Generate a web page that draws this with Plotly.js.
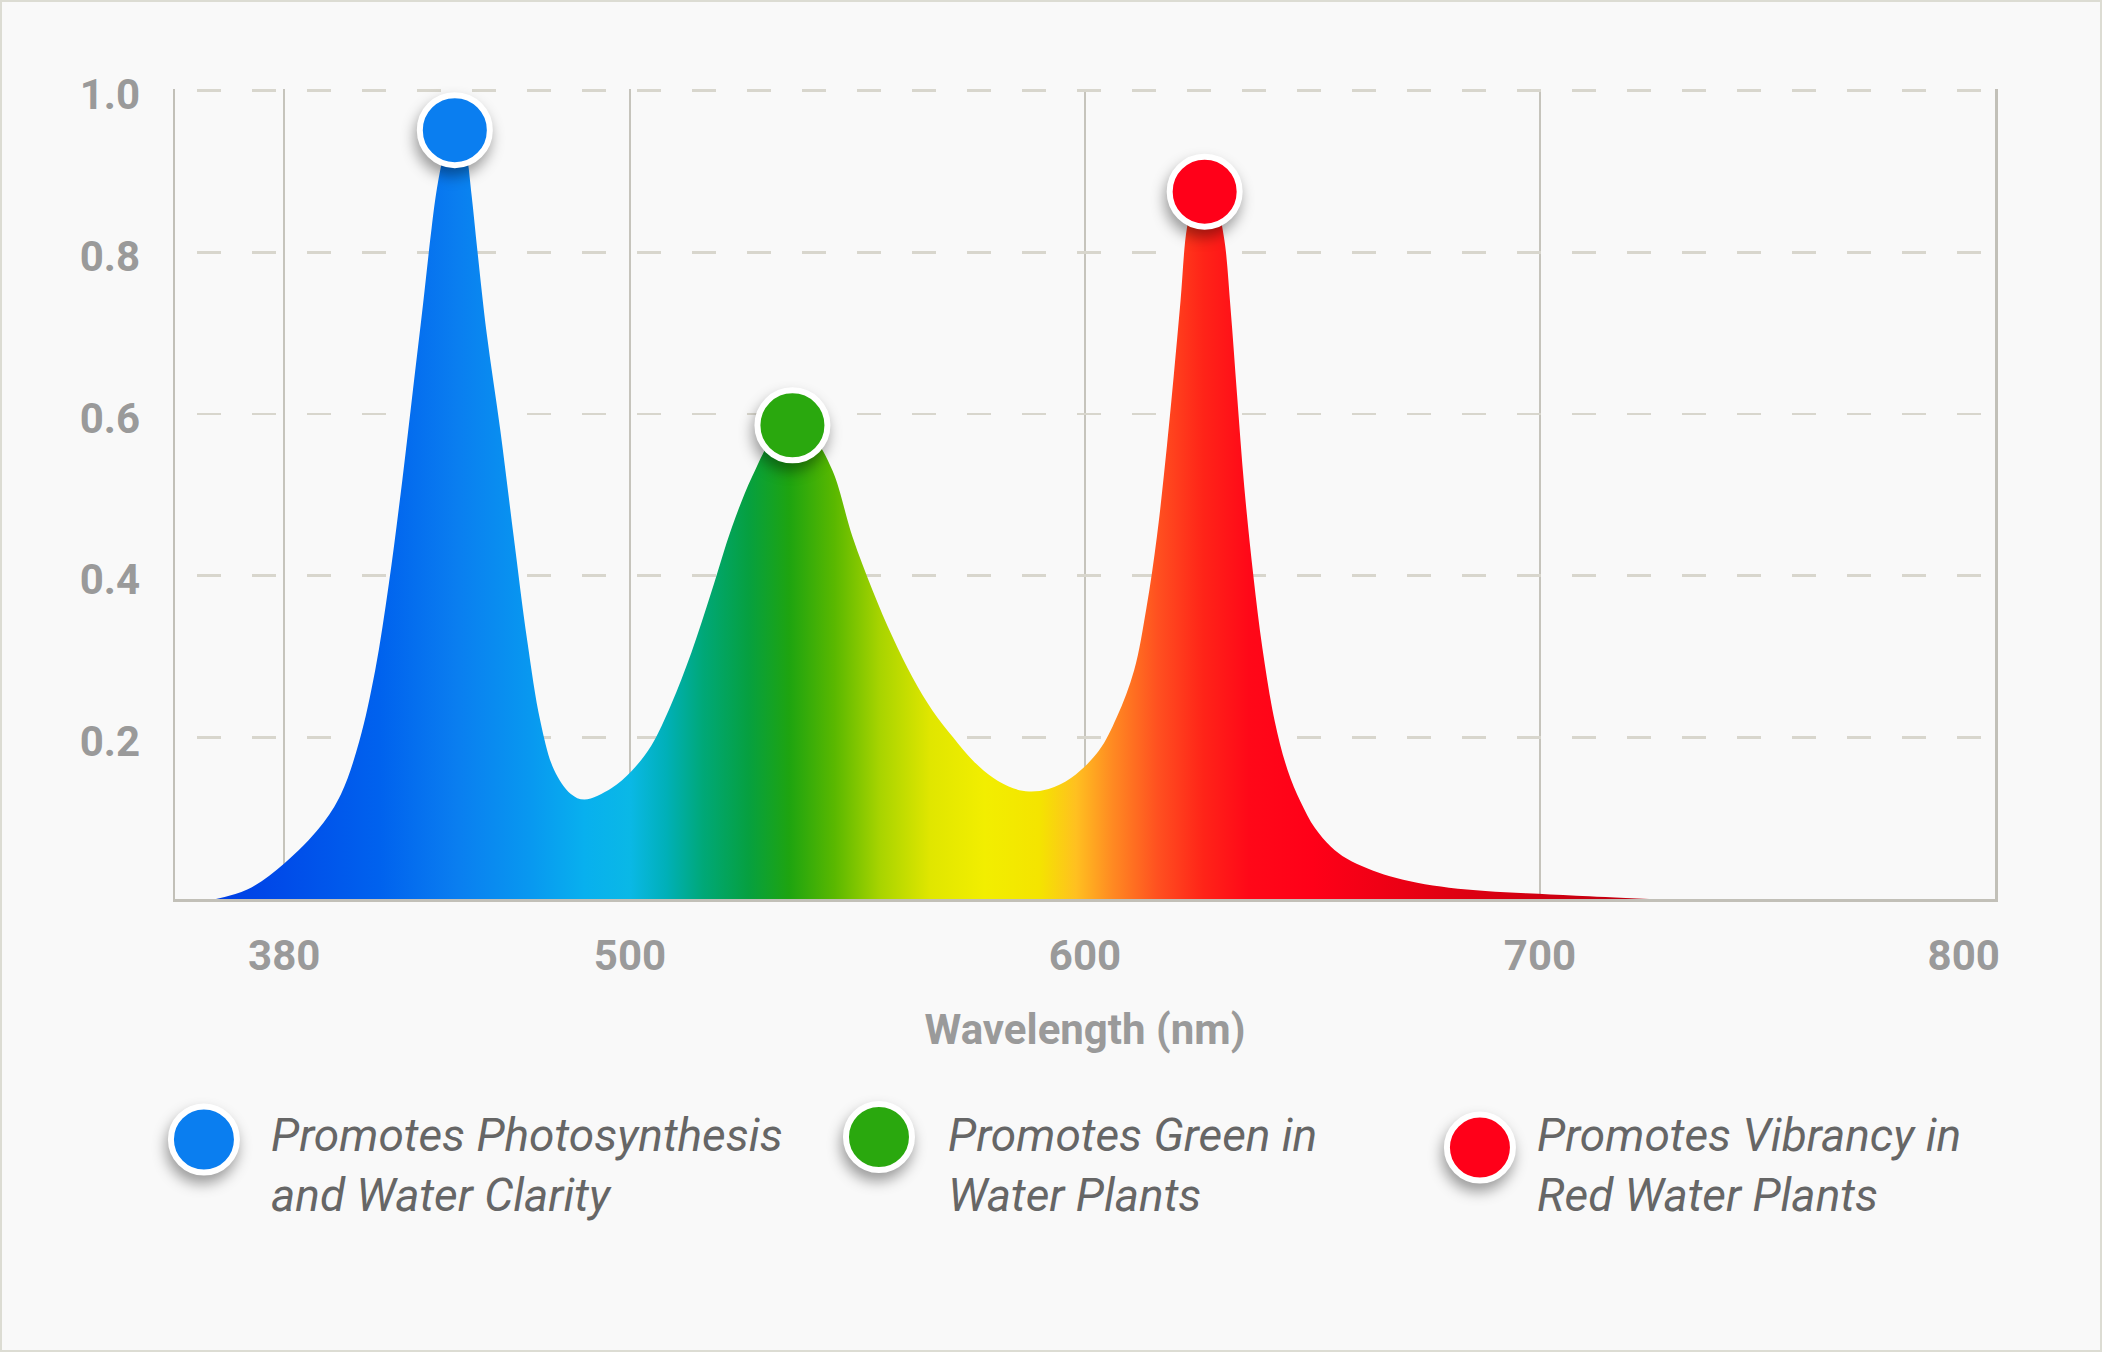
<!DOCTYPE html>
<html>
<head>
<meta charset="utf-8">
<script src="https://cdn.plot.ly/plotly-3.0.1.min.js"></script>
<style>
  html, body { margin: 0; padding: 0; background: #f9f9f9; }
  #wrap { position: relative; width: 2102px; height: 1352px; }
  #chart { width: 2102px; height: 1352px; }
  #frame { position: absolute; left: 0; top: 0; width: 2102px; height: 1352px;
           box-sizing: border-box; border: 2px solid #dcdcd3; pointer-events: none; }
</style>
</head>
<body>
<div id="wrap"><div id="chart"></div><div id="frame"></div></div>
<script>
// ---- data ----
const wavelength = [409, 416, 424, 432, 436.5, 440.5, 444, 447, 450, 452.3, 454.5, 456.4, 457.6, 459, 460.3, 461.5, 462.8, 464.1, 465.2, 466.5, 468.5, 471.5, 474.4, 477.4, 480.3, 483.3, 487, 490,
                    495.9, 500.3, 504.7, 509, 513.5, 517.9, 522.4, 526.8, 531.2, 535.7, 540.1, 544.5, 548.9, 553.3, 557.7, 562.1, 566.5, 571, 575.4, 579.8, 584.2, 587.7,
                    592, 597, 603, 607, 610.8, 613.5, 615.8, 618, 619.5, 621, 622.4, 624, 626.3, 628.5, 630.5, 632, 633.4, 635, 637, 639, 641.7, 644.5, 647.4, 650.5, 654, 657.5, 662, 667, 673, 680, 688, 697, 708, 724];
const intensity  = [0.000, 0.012, 0.044, 0.09, 0.13, 0.195, 0.283, 0.39, 0.52, 0.63, 0.735, 0.83, 0.88, 0.92, 0.945, 0.951, 0.945, 0.92, 0.87, 0.80, 0.70, 0.58, 0.45, 0.32, 0.22, 0.16, 0.13, 0.123,
                    0.137, 0.158, 0.19, 0.24, 0.305, 0.38, 0.46, 0.522, 0.568, 0.586, 0.572, 0.53, 0.448, 0.382, 0.324, 0.274, 0.233, 0.20, 0.171, 0.15, 0.137, 0.133,
                    0.136, 0.15, 0.183, 0.225, 0.283, 0.36, 0.448, 0.56, 0.647, 0.74, 0.83, 0.865, 0.875, 0.865, 0.82, 0.73, 0.625, 0.51, 0.40, 0.31, 0.22, 0.16, 0.12, 0.088, 0.065, 0.05, 0.038, 0.028, 0.02, 0.014, 0.01, 0.007, 0.004, 0.0];

const peakWavelength = [461.5, 535.7, 626.3];
const peakIntensity  = [0.951, 0.586, 0.875];
const peakColors     = ['#0a7ef0', '#2aa80e', '#ff0019'];
const legendLabels   = [
  'Promotes Photosynthesis<br>and Water Clarity',
  'Promotes Green in<br>Water Plants',
  'Promotes Vibrancy in<br>Red Water Plants'
];

const xTickVals   = [424, 500, 600, 700, 800];
const xTickLabels = ['380', '500', '600', '700', '800'];
const yTickVals   = [0.2, 0.4, 0.6, 0.8, 1.0];
const yTickLabels = ['0.2', '0.4', '0.6', '0.8', '1.0'];

const gradientNm     = [400, 420, 445, 462, 478, 490, 500, 508, 516, 526, 535, 545, 555, 566, 578, 590, 598, 606, 616, 626, 636, 650, 680, 720, 800];
const gradientColors = ['#0038e0', '#0048e8', '#0062ee', '#0a7ef0', '#0898f0', '#08b0ee', '#0ab8e6', '#00b0b8', '#00a878', '#06a040', '#1ea410', '#5ab800', '#a8d400', '#e0e600', '#f2ee00', '#f4e400', '#ffc020', '#ff8a22', '#ff5020', '#ff2418', '#ff0818', '#ff0018', '#e00012', '#c00010', '#b00010'];

// ---- layout helpers (positions only) ----
const X0 = 400, X1 = 800;
const legendCircleX = [0.0159, 0.3868, 0.7170];
const legendCircleY = [-0.2969, -0.2938, -0.3069];
const legendTextX   = [0.0517, 0.4237, 0.7473];
const legendTextY   = -0.3284;

const colorscale = gradientNm.map((n, i) => [(n - X0) / (X1 - X0), gradientColors[i]]);

const axisFont = { family: 'Roboto', size: 42, weight: 'bold', color: '#9a9a9a' };

const traces = [
  {
    type: 'scatter', mode: 'lines',
    x: wavelength, y: intensity,
    line: { width: 0, shape: 'spline', smoothing: 1 },
    fill: 'tozeroy',
    fillgradient: { type: 'horizontal', start: X0, stop: X1, colorscale: colorscale },
    hoverinfo: 'skip', showlegend: false
  },
  {
    type: 'scatter', mode: 'markers',
    x: peakWavelength, y: peakIntensity,
    marker: { size: 70, color: peakColors, line: { color: '#ffffff', width: 6 } },
    cliponaxis: false, showlegend: false
  }
];

const shapes = legendLabels.map((t, i) => ({
  type: 'circle', xref: 'paper', yref: 'paper',
  xsizemode: 'pixel', ysizemode: 'pixel',
  xanchor: legendCircleX[i], yanchor: legendCircleY[i],
  x0: -33, x1: 33, y0: -33, y1: 33,
  fillcolor: peakColors[i], line: { color: '#ffffff', width: 6 }
}));

const annotations = legendLabels.map((t, i) => ({
  xref: 'paper', yref: 'paper', x: legendTextX[i], y: legendTextY,
  xanchor: 'left', yanchor: 'middle', align: 'left', showarrow: false,
  text: t,
  font: { family: 'Roboto', size: 46, color: '#666666', style: 'italic' }
}));

const xTickText = xTickLabels.map((t, i) => i === xTickLabels.length - 1 ? t + '\u00a0'.repeat(6) : t);

const layout = {
  width: 2102, height: 1352,
  margin: { l: 175, r: 107, t: 89, b: 453 },
  paper_bgcolor: '#f9f9f9', plot_bgcolor: '#f9f9f9',
  showlegend: false,
  xaxis: {
    range: [X0, X1], tickmode: 'array', tickvals: xTickVals, ticktext: xTickText,
    showgrid: true, gridcolor: '#c6c4bc', gridwidth: 2.5,
    showline: true, linecolor: '#c2c0b8', linewidth: 2.5,
    zeroline: false, ticks: '', ticklabelstandoff: 18,
    tickfont: axisFont,
    title: { text: 'Wavelength (nm)', font: axisFont, standoff: 36 }
  },
  yaxis: {
    range: [0, 1.002], tickmode: 'array', tickvals: yTickVals, ticktext: yTickLabels,
    showgrid: true, gridcolor: '#d8d6cd', gridwidth: 2.5, griddash: '0px,22px,24px,9px',
    showline: true, linecolor: '#c2c0b8', linewidth: 2.5, mirror: true,
    zeroline: false, ticks: '', ticklabelstandoff: 24, ticklabelshift: 4,
    tickfont: axisFont
  },
  shapes: shapes,
  annotations: annotations
};

Plotly.newPlot('chart', traces, layout, { staticPlot: true }).then(() => {
  document.querySelectorAll('.scatterlayer path.point').forEach(p => {
    p.style.filter = 'drop-shadow(-2px 8px 7px rgba(0,0,0,0.38))';
  });
  document.querySelectorAll('.shapelayer path').forEach(p => {
    p.style.filter = 'drop-shadow(-2px 8px 7px rgba(0,0,0,0.38))';
  });
});
</script>
</body>
</html>
